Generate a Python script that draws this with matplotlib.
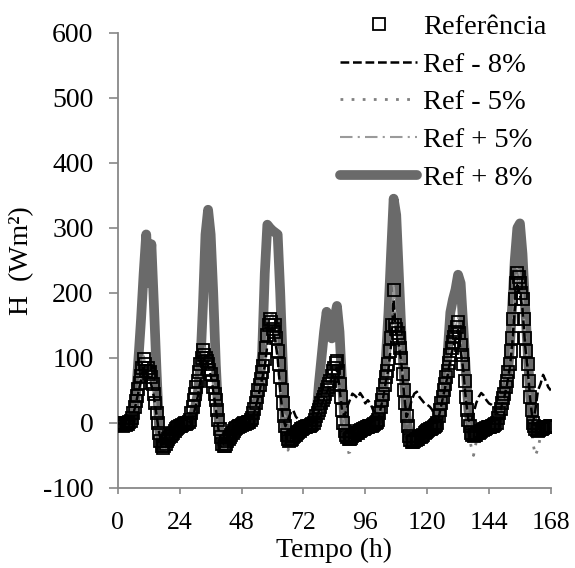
import numpy as np
import matplotlib
matplotlib.use("Agg")
import matplotlib.pyplot as plt

# values; the reference squares every half hour, the lines hourly
ref_time = np.arange(0, 168.5, 0.5)
hours = np.arange(0, 169)

referencia = (
    [0, -3, -2, 0, -4, -1, -3, 0, -2, 2, 3, 8, 15, 25, 33, 42, 52, 62, 72, 85, 98, 90, 80, 85,
     75, 78, 70, 60, 45, 30, 15, 0, -15, -28, -36, -38, -35, -32, -28, -25, -22, -20, -17, -15, -12, -10, -8, -6]
    + [-5, -4, -3, -2, 0, -1, 0, 2, 5, 15, 25, 35, 45, 55, 65, 78, 90, 100, 112, 105, 100, 95, 90, 82,
       75, 65, 55, 45, 35, 20, 5, -10, -22, -32, -36, -35, -32, -28, -25, -22, -18, -15, -12, -10, -8, -6, -5, -4]
    + [-3, -2, 0, -1, 0, 1, 2, 4, 8, 15, 22, 30, 40, 50, 58, 68, 78, 88, 98, 115, 135, 150, 160, 155,
       145, 140, 150, 130, 110, 90, 70, 50, 30, 10, -5, -18, -25, -28, -26, -24, -22, -20, -18, -16, -14, -12, -10, -9]
    + [-8, -7, -6, -5, -5, -4, -3, -2, 0, 5, 10, 15, 20, 25, 30, 35, 40, 45, 50, 55, 60, 65, 72, 80,
       85, 92, 95, 80, 60, 40, 20, 0, -12, -18, -22, -24, -25, -23, -20, -19, -18, -16, -15, -13, -12, -11, -10, -9]
    + [-8, -7, -6, -5, -5, -4, -3, -2, 0, 2, 5, 15, 25, 35, 45, 58, 70, 80, 90, 110, 130, 150, 205, 150,
       145, 138, 130, 115, 100, 75, 50, 30, 10, -5, -20, -26, -30, -30, -28, -27, -25, -24, -22, -21, -20, -18, -16, -14]
    + [-12, -11, -10, -9, -8, -6, -5, -3, 0, 10, 20, 30, 40, 50, 60, 70, 80, 92, 105, 115, 125, 132, 140, 148,
       155, 138, 120, 105, 90, 65, 40, 20, 5, -5, -15, -18, -20, -19, -18, -16, -15, -14, -12, -11, -10, -9, -8, -7]
    + [-6, -6, -5, -4, -3, -2, 0, 8, 15, 22, 30, 38, 45, 55, 65, 78, 90, 110, 130, 160, 190, 215, 230, 225,
       215, 200, 190, 160, 130, 110, 90, 65, 40, 20, 0, -5, -10, -11, -12, -11, -10, -9, -8, -7, -6, -6, -6, -5, -5]
)

ref_m8 = (
    [0, -2, 0, -3, -2, 2, 14, 30, 48, 66, 86, 76, 70, 58, 40, 12, -14, -33, -32, -26, -20, -16, -11, -7]
    + [-5, -3, 0, 0, 2, 7, 23, 41, 64, 92, 103, 87, 74, 50, 23, -9, -28, -32, -28, -23, -18, -14, -9, -5]
    + [-3, 0, 0, 2, 5, 18, 32, 50, 69, 87, 120, 142, 147, 128, 100, 50, 9, -5, 5, 15, 20, 10, 5, -5]
    + [-7, -5, -4, -2, 0, 9, 18, 28, 37, 46, 55, 69, 78, 85, 55, 18, 10, 25, 35, 45, 42, 38, 46, 40]
    + [30, 35, 30, 20, 15, 5, 23, 41, 64, 83, 120, 189, 133, 120, 92, 46, 9, 20, 35, 45, 48, 40, 35, 30]
    + [28, 25, 20, 10, 0, 18, 37, 55, 74, 97, 115, 129, 143, 110, 83, 37, 5, 0, 15, 30, 40, 46, 42, 35]
    + [30, 28, 25, 15, 14, 28, 41, 60, 83, 120, 175, 212, 198, 175, 120, 83, 37, 0, 20, 50, 60, 74, 65, 55, 50]
)

ref_m5 = (
    [0, -2, 0, -3, -2, 2, 15, 32, 50, 69, 93, 78, 73, 60, 42, 12, -18, -40, -38, -30, -23, -18, -12, -8]
    + [-5, -3, 0, 0, 2, 8, 24, 43, 67, 96, 107, 91, 77, 53, 24, -12, -35, -42, -35, -27, -21, -15, -10, -6]
    + [-3, 0, 0, 2, 5, 19, 33, 52, 71, 90, 124, 147, 152, 133, 105, 52, 5, -38, -42, -30, -22, -16, -12, -10]
    + [-8, -6, -5, -3, 0, 10, 19, 29, 38, 48, 57, 71, 81, 87, 57, 19, -25, -46, -45, -30, -20, -15, -12, -10]
    + [-8, -6, -5, -3, 0, 5, 24, 43, 67, 86, 124, 195, 138, 124, 95, 48, 5, -28, -38, -35, -28, -22, -20, -16]
    + [-12, -10, -8, -5, 0, 19, 38, 57, 76, 100, 119, 133, 147, 114, 86, 38, 0, -35, -50, -30, -18, -12, -10, -8]
    + [-6, -5, -3, 0, 14, 29, 43, 62, 86, 124, 181, 219, 204, 181, 124, 86, 38, -30, -50, -40, -20, -10, -6, -6, -5]
)

ref_p5 = (
    [0, -2, 0, -3, -2, 2, 16, 35, 55, 76, 103, 84, 79, 63, 47, 16, -13, -33, -30, -25, -20, -16, -11, -7]
    + [-5, -3, 0, 0, 2, 8, 26, 47, 74, 105, 118, 100, 84, 58, 26, -8, -26, -30, -26, -22, -18, -13, -9, -5]
    + [-3, 0, 0, 2, 5, 21, 37, 58, 79, 100, 137, 163, 168, 147, 116, 58, 15, 10, 5, -15, -15, -12, -10, -8]
    + [-7, -5, -4, -2, 0, 11, 21, 32, 42, 53, 63, 79, 89, 97, 63, 21, -10, -18, -20, -17, -15, -12, -10, -8]
    + [-7, -5, -4, -2, 0, 5, 26, 47, 74, 95, 137, 215, 152, 137, 105, 53, 11, -15, -25, -24, -21, -19, -17, -13]
    + [-10, -8, -6, -4, 0, 21, 42, 63, 84, 110, 131, 147, 163, 126, 95, 42, 5, -12, -17, -15, -12, -10, -8, -6]
    + [-5, -4, -2, 0, 16, 32, 47, 68, 95, 137, 200, 242, 226, 200, 137, 95, 42, 0, -8, -10, -8, -6, -5, -5, -4]
)

ref_p8 = (
    [0, -2, 0, -3, -2, 2, 15, 40, 100, 160, 230, 290, 215, 275, 180, 80, -10, -38, -35, -28, -22, -18, -12, -8]
    + [-5, -3, 0, 0, 2, 8, 25, 45, 90, 180, 290, 328, 290, 200, 90, 10, -30, -35, -30, -25, -20, -15, -10, -6]
    + [-3, 0, 0, 2, 5, 20, 35, 60, 110, 230, 305, 300, 296, 293, 290, 200, 90, -20, -28, -25, -20, -15, -12, -10]
    + [-8, -6, -5, -3, 0, 10, 60, 100, 140, 171, 140, 130, 160, 180, 140, 60, 0, -22, -25, -20, -18, -15, -12, -10]
    + [-8, -6, -5, -3, 0, 5, 25, 50, 100, 170, 260, 345, 320, 230, 140, 70, 10, -20, -30, -28, -25, -22, -20, -16]
    + [-12, -10, -8, -5, 0, 20, 40, 50, 110, 170, 190, 205, 228, 215, 150, 80, 20, -10, -20, -18, -15, -12, -10, -8]
    + [-6, -5, -3, 0, 15, 30, 45, 60, 110, 180, 250, 300, 307, 260, 180, 110, 40, 0, -10, -12, -10, -8, -6, -6, -5]
)

x_ticks = [0, 24, 48, 72, 96, 120, 144, 168]
y_ticks = [-100, 0, 100, 200, 300, 400, 500, 600]

plt.rcParams['font.family'] = ['Liberation Serif', 'DejaVu Serif']
plt.rcParams['axes.unicode_minus'] = False

fig = plt.figure(figsize=(5.75, 5.68), dpi=100)
ax = fig.add_axes([0.205, 0.141, 0.753, 0.801])

ax.plot(hours, ref_p8, color='#6a6a6a', lw=7, solid_capstyle='round', solid_joinstyle='round',
        label='Ref + 8%', zorder=2)
ax.plot(hours, ref_p5, color='#9a9a9a', lw=1.5, ls=(0, (6, 2.5, 1, 2.5)), label='Ref + 5%', zorder=3)
ax.plot(hours, ref_m5, color='#808080', lw=2, ls=(0, (1, 3)), label='Ref - 5%', zorder=3)
ax.plot(hours, ref_m8, color='black', lw=1.8, ls=(0, (3.5, 1.5)), label='Ref - 8%', zorder=3)
ax.plot(ref_time, referencia, ls='none', marker='s', ms=8.5, mfc='none', mec='black', mew=1.3,
        label='Referência', zorder=4)

ax.set_xlim(0, 168)
ax.set_ylim(-100, 600)
ax.set_xticks(x_ticks)
ax.set_yticks(y_ticks)
ax.tick_params(axis='y', labelsize=20, colors='#888888', labelcolor='black', length=6.5, width=1.2, pad=11)
ax.tick_params(axis='x', labelsize=18.5, colors='#888888', labelcolor='black', length=4, width=1.2, pad=13)
for side in ['top', 'right']:
    ax.spines[side].set_visible(False)
for side in ['left', 'bottom']:
    ax.spines[side].set_color('#888888')
    ax.spines[side].set_linewidth(1.3)

ax.set_xlabel('Tempo (h)', fontsize=20, labelpad=3)
ax.set_ylabel('H  (Wm²)', fontsize=20, labelpad=6)

handles, labels = ax.get_legend_handles_labels()
order = [4, 3, 2, 1, 0]
fig.legend([handles[i] for i in order], [labels[i] for i in order],
           loc='upper right', bbox_to_anchor=(0.975, 1.0), frameon=False,
           fontsize=20.5, handlelength=2.7, handletextpad=0.2, labelspacing=0.41,
           borderaxespad=0.1)

fig.savefig('out.png', dpi=100)
